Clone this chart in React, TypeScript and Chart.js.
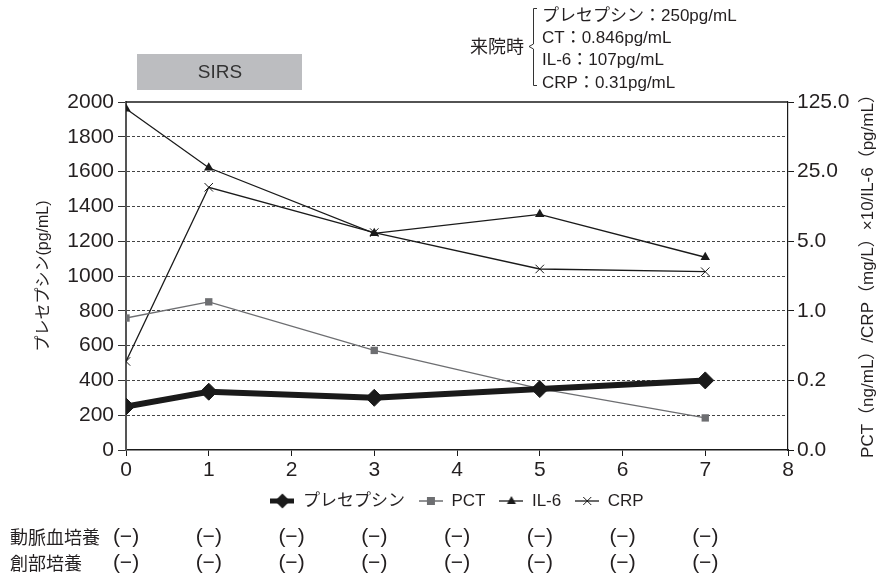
import React, { useEffect, useRef } from 'react';
import { Chart, registerables } from 'chart.js';

Chart.register(...registerables);

// ---- data ----
const days = [0, 1, 3, 5, 7];
const presepsin = [250, 335, 300, 350, 400]; // pg/mL (left axis)
const pct = [0.846, 1.23, 0.4, 0.165, 0.084]; // right axis (log)
const il6 = [107, 27.3, 6.0, 9.3, 3.45];
const crp = [0.31, 17.4, 6.1, 2.63, 2.47];

const seriesNames = ['プレセプシン', 'PCT', 'IL-6', 'CRP'];
const rightTicks = [0.04, 0.2, 1, 5, 25, 125];
const leftMax = 2000;
const leftStep = 200;
const xMax = 8;

const cultureRows = ['動脈血培養', '創部培養'];
const cultureDays = [0, 1, 2, 3, 4, 5, 6, 7];
const cultureResult = '(−)';

const sirsLabel = 'SIRS';
const arrivalLabel = '来院時';
const arrivalLines = ['プレセプシン：250pg/mL', 'CT：0.846pg/mL', 'IL-6：107pg/mL', 'CRP：0.31pg/mL'];
const leftTitle = 'プレセプシン(pg/mL)';
const rightTitle = 'PCT（ng/mL）/CRP（mg/L）×10/IL-6（pg/mL）';

const FONT = '"Liberation Sans", Arial, "Noto Sans CJK JP", sans-serif';
const CJK = '"Noto Sans CJK JP", "Liberation Sans", sans-serif';
const TEXT = '#231f20';
const DARK = '#1a1a1a';
const GRAY = '#6d6e71';

function makeMarker(kind: string): HTMLCanvasElement {
  const c = document.createElement('canvas');
  c.width = 24;
  c.height = 16;
  const g = c.getContext('2d')!;
  const cy = 8;
  if (kind === 'presepsin') {
    g.strokeStyle = DARK;
    g.lineWidth = 5;
    g.beginPath(); g.moveTo(0, cy); g.lineTo(24, cy); g.stroke();
    g.fillStyle = DARK;
    g.beginPath(); g.moveTo(12, cy - 7.5); g.lineTo(19.5, cy); g.lineTo(12, cy + 7.5); g.lineTo(4.5, cy); g.closePath(); g.fill();
  } else if (kind === 'pct') {
    g.strokeStyle = GRAY;
    g.lineWidth = 1.5;
    g.beginPath(); g.moveTo(0, cy); g.lineTo(24, cy); g.stroke();
    g.fillStyle = GRAY;
    g.fillRect(8, cy - 4, 8, 8);
  } else if (kind === 'il6') {
    g.strokeStyle = DARK;
    g.lineWidth = 1.3;
    g.beginPath(); g.moveTo(0, cy); g.lineTo(24, cy); g.stroke();
    g.fillStyle = DARK;
    g.beginPath(); g.moveTo(12, cy - 5); g.lineTo(16.5, cy + 3); g.lineTo(7.5, cy + 3); g.closePath(); g.fill();
  } else {
    g.strokeStyle = DARK;
    g.lineWidth = 1.3;
    g.beginPath(); g.moveTo(0, cy); g.lineTo(24, cy); g.stroke();
    g.lineWidth = 1;
    g.beginPath();
    g.moveTo(8, cy - 4); g.lineTo(16, cy + 4);
    g.moveTo(16, cy - 4); g.lineTo(8, cy + 4);
    g.stroke();
  }
  return c;
}

const decorPlugin = {
  id: 'decor',
  afterDraw(chart: any) {
    const { ctx, chartArea } = chart;
    const xs = chart.scales.x;
    ctx.save();
    // top border line
    ctx.strokeStyle = DARK;
    ctx.lineWidth = 1.5;
    ctx.beginPath();
    ctx.moveTo(chartArea.left, chartArea.top);
    ctx.lineTo(chartArea.right, chartArea.top);
    ctx.stroke();

    // SIRS box
    ctx.fillStyle = '#bcbdc0';
    ctx.fillRect(137, 54, 165, 36);
    ctx.fillStyle = '#333';
    ctx.font = `19px ${FONT}`;
    ctx.textAlign = 'center';
    ctx.textBaseline = 'middle';
    ctx.fillText(sirsLabel, 220, 73);

    // arrival annotation
    ctx.fillStyle = TEXT;
    ctx.font = `18px ${CJK}`;
    ctx.textAlign = 'left';
    ctx.fillText(arrivalLabel, 470, 46);
    ctx.strokeStyle = '#333';
    ctx.lineWidth = 1;
    ctx.beginPath();
    ctx.moveTo(537, 8.5);
    ctx.lineTo(533.5, 8.5);
    ctx.lineTo(533.5, 44);
    ctx.lineTo(529, 46.5);
    ctx.lineTo(533.5, 49);
    ctx.lineTo(533.5, 85.5);
    ctx.lineTo(537, 85.5);
    ctx.stroke();
    ctx.font = `17px ${FONT}`;
    arrivalLines.forEach((t, i) => {
      ctx.fillText(t, 542, 16 + i * 22.3);
    });

    // right title (reads bottom-to-top)
    ctx.save();
    ctx.translate(868, 272);
    ctx.rotate(-Math.PI / 2);
    ctx.textAlign = 'center';
    ctx.font = `17px ${FONT}`;
    ctx.fillText(rightTitle, 0, 0);
    ctx.restore();

    // culture rows
    cultureRows.forEach((label, r) => {
      const y = 537 + r * 26;
      ctx.textAlign = 'left';
      ctx.font = `18px ${CJK}`;
      ctx.fillText(label, 10, y);
      ctx.textAlign = 'center';
      ctx.font = `21px ${FONT}`;
      cultureDays.forEach((d) => {
        ctx.fillText(cultureResult, xs.getPixelForValue(d), y);
      });
    });
    ctx.restore();
  },
};

export default function App() {
  const ref = useRef<HTMLCanvasElement | null>(null);

  useEffect(() => {
    if (!ref.current) return;
    const markers = [makeMarker('presepsin'), makeMarker('pct'), makeMarker('il6'), makeMarker('crp')];
    const pts = (arr: number[]) => days.map((d, i) => ({ x: d, y: arr[i] }));
    const tickFont = { size: 21, family: FONT };

    const chart = new Chart(ref.current, {
      type: 'line',
      data: {
        datasets: [
          {
            label: seriesNames[0],
            data: pts(presepsin),
            yAxisID: 'y',
            borderColor: DARK,
            backgroundColor: DARK,
            borderWidth: 6,
            pointStyle: 'rectRot',
            pointRadius: 8.5,
            pointBorderWidth: 1,
            pointBackgroundColor: DARK,
            pointBorderColor: DARK,
          },
          {
            label: seriesNames[1],
            data: pts(pct),
            yAxisID: 'y2',
            borderColor: GRAY,
            backgroundColor: GRAY,
            borderWidth: 1.3,
            pointStyle: 'rect',
            pointRadius: 5.2,
            pointBorderWidth: 0,
            pointBackgroundColor: GRAY,
          },
          {
            label: seriesNames[2],
            data: pts(il6),
            yAxisID: 'y2',
            borderColor: DARK,
            backgroundColor: DARK,
            borderWidth: 1.3,
            pointStyle: 'triangle',
            pointRadius: 5.5,
            pointBorderWidth: 0,
            pointBackgroundColor: DARK,
          },
          {
            label: seriesNames[3],
            data: pts(crp),
            yAxisID: 'y2',
            borderColor: DARK,
            backgroundColor: DARK,
            borderWidth: 1.3,
            pointStyle: 'crossRot',
            pointRadius: 6,
            pointBorderWidth: 1,
            pointBorderColor: DARK,
          },
        ],
      },
      options: {
        animation: false,
        responsive: true,
        maintainAspectRatio: false,
        layout: { padding: { top: 102, left: 0, right: 0, bottom: 56.5 } },
        plugins: {
          tooltip: { enabled: false },
          legend: {
            position: 'bottom',
            fullSize: false,
            labels: {
              usePointStyle: true,
              pointStyleWidth: 24,
              padding: 14,
              color: TEXT,
              font: { size: 17, family: FONT },
              generateLabels: (ch: any) =>
                ch.data.datasets.map((ds: any, i: number) => ({
                  text: ds.label,
                  pointStyle: markers[i],
                  datasetIndex: i,
                  hidden: false,
                  fillStyle: 'transparent',
                  strokeStyle: 'transparent',
                  lineWidth: 0,
                  fontColor: TEXT,
                })),
            },
          },
        },
        scales: {
          x: {
            type: 'linear',
            min: 0,
            max: xMax,
            ticks: { stepSize: 1, font: tickFont, color: TEXT, padding: 2 },
            grid: { drawOnChartArea: false, drawTicks: true, tickLength: 6, tickColor: DARK, tickWidth: 1 },
            border: { color: DARK, width: 1.5 },
            afterFit: (s: any) => { s.height = 28.5; },
          },
          y: {
            position: 'left',
            min: 0,
            max: leftMax,
            ticks: {
              stepSize: leftStep,
              font: tickFont,
              color: TEXT,
              padding: 4,
              callback: (v: any) => String(v),
            },
            grid: {
              color: (c: any) => (c.tick && (c.tick.value === 0 || c.tick.value === leftMax) ? 'transparent' : '#444'),
              lineWidth: 1,
              tickColor: '#333',
              tickLength: 8,
              tickWidth: 1,
            },
            border: { color: '#555', width: 2, dash: [3, 2] },
            title: {
              display: true,
              text: leftTitle,
              color: TEXT,
              font: { size: 16, family: FONT },
              padding: { top: 34, bottom: 0 },
            },
            afterFit: (s: any) => { s.width = 126; },
          },
          y2: {
            type: 'logarithmic',
            position: 'right',
            min: rightTicks[0],
            max: rightTicks[rightTicks.length - 1],
            afterBuildTicks: (s: any) => { s.ticks = rightTicks.map((v) => ({ value: v })); },
            ticks: {
              font: tickFont,
              color: TEXT,
              padding: 3,
              callback: (v: any) => Number(v).toFixed(1),
            },
            grid: { drawOnChartArea: false, drawTicks: true, tickLength: 6, tickColor: DARK, tickWidth: 1 },
            border: { color: DARK, width: 1.2 },
            afterFit: (s: any) => { s.width = 94; },
          },
        },
      },
      plugins: [decorPlugin],
    } as any);
    return () => chart.destroy();
  }, []);

  return (
    <div style={{ position: 'absolute', left: 0, top: 0, width: 882, height: 576, background: '#fff' }}>
      <canvas ref={ref} />
    </div>
  );
}
